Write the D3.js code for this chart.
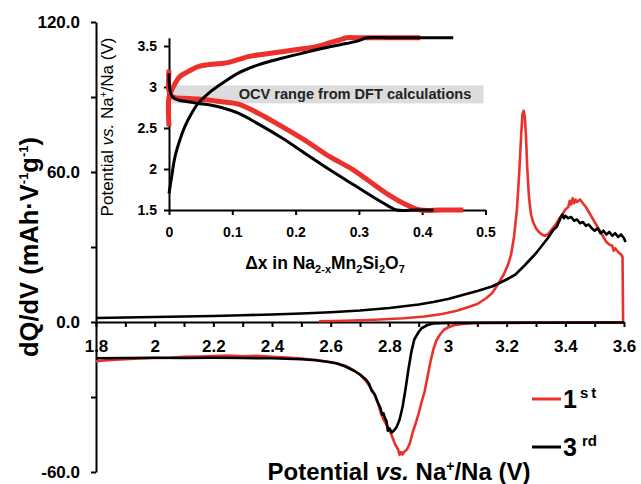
<!DOCTYPE html>
<head>
  <meta charset="utf-8">
  <title>dQ/dV Na2Mn2Si2O7</title>
  <script src="https://d3js.org/d3.v7.min.js"></script>
  <style>
    body { margin: 0; background: #fff; }
    svg { font-family: "Liberation Sans", Arial, sans-serif; }
    .axis path, .axis line { stroke: #000; stroke-width: 2px; }
    .axis text { font-weight: bold; fill: #000; font-family: "Liberation Sans", Arial, sans-serif; }
    .curve { fill: none; stroke-linejoin: round; stroke-linecap: butt; }
    .title { font-weight: bold; fill: #000; }
  </style>
</head>

<body>
  <script>
    var width = 641, height = 484;
    var red = "#ec302c";

    // main plot, 1st cycle (charge then discharge)
    var c1V = [2.56, 2.65, 2.75, 2.85, 2.92, 2.98, 3.03, 3.07, 3.10, 3.13, 3.15, 3.17, 3.19, 3.205, 3.215, 3.225, 3.235, 3.243, 3.25, 3.254, 3.258, 3.262, 3.266, 3.27, 3.276, 3.283, 3.29, 3.30, 3.31, 3.32, 3.33, 3.34, 3.35, 3.36, 3.37, 3.38, 3.39, 3.40, 3.41, 3.415, 3.42, 3.425, 3.43, 3.435, 3.44, 3.45, 3.46, 3.47, 3.48, 3.49, 3.50, 3.51, 3.52, 3.53, 3.54, 3.55, 3.56, 3.565, 3.57, 3.58, 3.59, 3.595, 3.597,
      3.5, 3.3, 3.1, 3.05, 3.02, 3.0, 2.985, 2.97, 2.96, 2.95, 2.94, 2.93, 2.92, 2.91, 2.90, 2.89, 2.88, 2.87, 2.86, 2.85, 2.845, 2.84, 2.835, 2.83, 2.82, 2.81, 2.80, 2.79, 2.78, 2.77, 2.76, 2.75, 2.74, 2.72, 2.70, 2.68, 2.65, 2.60, 2.55, 2.50, 2.45, 2.40, 2.35, 2.30, 2.25, 2.20, 2.15, 2.10, 2.05, 2.00, 1.95, 1.90, 1.85, 1.80];
    var c1Q = [0.3, 0.5, 0.9, 1.5, 2.2, 3.2, 4.5, 6.0, 7.2, 9.5, 11.5, 15, 19, 23, 27, 34, 45, 60, 76, 83, 84.5, 82, 74, 62, 50, 43, 40, 37.5, 36, 35, 34.5, 35, 36.5, 38, 39.5, 41.5, 43, 45, 46, 48.5, 47, 49.5, 47.5, 49, 48, 49, 47.5, 46, 44, 42, 40, 38, 36, 34, 32, 31, 30.5, 28.5, 29.5, 28, 27, 26, 0,
      -0.2, -0.3, -0.4, -0.8, -1.3, -2.2, -3.2, -5.5, -7.5, -11, -16, -22, -28, -32, -36.5, -40.5, -44, -48.5, -51, -52, -53, -52, -53.2, -51, -49, -46, -43, -41, -39, -36, -32, -29, -27, -23.5, -21, -19.5, -17.5, -16, -15.2, -14.6, -14.2, -13.9, -13.5, -13.7, -13.4, -13.6, -13.8, -13.9, -14.3, -14.4, -14.6, -14.9, -15.2, -15.7];

    // main plot, 3rd cycle
    var c3ChV = [1.8, 1.9, 2.0, 2.1, 2.2, 2.3, 2.4, 2.5, 2.6, 2.7, 2.8, 2.9, 2.95, 3.0, 3.05, 3.1, 3.15, 3.2, 3.23, 3.26, 3.28, 3.3, 3.32, 3.34, 3.36, 3.37, 3.38, 3.385, 3.39, 3.395, 3.40, 3.41, 3.42, 3.43, 3.44, 3.45, 3.46, 3.47, 3.48, 3.49, 3.50, 3.51, 3.52, 3.53, 3.54, 3.55, 3.56, 3.57, 3.58, 3.59, 3.6, 3.605];
    var c3ChQ = [1.6, 1.8, 2.0, 2.2, 2.4, 2.7, 3.0, 3.4, 3.9, 4.6, 5.6, 7.0, 8.0, 9.2, 10.8, 12.4, 14.2, 17, 19, 22.5, 25, 27.5, 30.5, 33.5, 37, 38, 40.5, 42, 43, 41.5, 42.5, 41.5, 42, 40.5, 41, 39.5, 40, 38.5, 39, 37.5, 36.5, 37.5, 35.5, 36.5, 35, 36, 34.5, 35.5, 34, 35, 33.5, 32];
    var c3DisV = [3.6, 3.2, 3.0, 2.95, 2.93, 2.91, 2.90, 2.885, 2.875, 2.865, 2.855, 2.845, 2.835, 2.825, 2.815, 2.808, 2.80, 2.795, 2.79, 2.785, 2.78, 2.775, 2.77, 2.76, 2.75, 2.74, 2.73, 2.72, 2.70, 2.68, 2.65, 2.62, 2.58, 2.55, 2.50, 2.40, 2.30, 2.20, 2.10, 2.00, 1.90, 1.80];
    var c3DisQ = [-0.2, -0.3, -0.4, -0.6, -1.2, -2.5, -4, -7, -12, -19, -27, -34, -39, -42, -43.5, -44.2, -42.5, -43.5, -39.5, -38.5, -36.5, -37, -34.5, -32, -29, -27.5, -24.5, -23, -21, -19.5, -17.8, -16.5, -15.8, -15.3, -14.9, -14.5, -14.4, -14.3, -14.4, -14.3, -14.4, -14.5];

    // inset: potential vs. delta x
    var inRedChX = [0, 0, 0.004, 0.0095, 0.017, 0.0305, 0.046, 0.06, 0.073, 0.086, 0.099, 0.112, 0.125, 0.15, 0.178, 0.205, 0.231, 0.254, 0.268, 0.281, 0.30, 0.35, 0.397];
    var inRedChV = [2.52, 2.88, 2.96, 3.04, 3.126, 3.19, 3.248, 3.27, 3.28, 3.29, 3.31, 3.34, 3.37, 3.40, 3.43, 3.46, 3.49, 3.54, 3.57, 3.6, 3.6, 3.6, 3.6];
    var inRedDisX = [0, 0, 0.004, 0.0095, 0.03, 0.046, 0.065, 0.083, 0.1095, 0.141, 0.178, 0.215, 0.254, 0.291, 0.344, 0.376, 0.397, 0.43, 0.465];
    var inRedDisV = [3.21, 2.95, 2.89, 2.87, 2.86, 2.854, 2.84, 2.82, 2.79, 2.68, 2.52, 2.35, 2.15, 1.99, 1.70, 1.56, 1.5, 1.5, 1.5];
    var inBlkChX = [0, 0.0042, 0.0095, 0.017, 0.025, 0.0358, 0.046, 0.062, 0.0832, 0.1095, 0.141, 0.178, 0.215, 0.254, 0.28, 0.30, 0.312, 0.35, 0.40, 0.449];
    var inBlkChV = [1.70, 1.906, 2.15, 2.35, 2.516, 2.68, 2.80, 2.92, 3.04, 3.17, 3.27, 3.35, 3.42, 3.49, 3.53, 3.565, 3.6, 3.6, 3.6, 3.6];
    var inBlkDisX = [0, 0.0016, 0.0053, 0.0148, 0.03, 0.046, 0.065, 0.083, 0.1095, 0.141, 0.178, 0.215, 0.254, 0.291, 0.32, 0.344, 0.36, 0.39, 0.418];
    var inBlkDisV = [3.167, 2.96, 2.88, 2.84, 2.82, 2.80, 2.78, 2.75, 2.68, 2.55, 2.38, 2.19, 1.99, 1.81, 1.67, 1.56, 1.5, 1.5, 1.5];
    var ocvRange = [2.80, 3.02];

    var mainXTicks = d3.range(18, 37).map(d => d / 10);
    var mainXLabels = ["1.8", "2", "2.2", "2.4", "2.6", "2.8", "3", "3.2", "3.4", "3.6"];
    var mainYTicks = [-60, -30, 0, 30, 60, 90, 120];
    var mainYLabels = ["-60.0", "0.0", "60.0", "120.0"];
    var inXTicks = [0, 0.1, 0.2, 0.3, 0.4, 0.5];
    var inYTicks = [1.5, 2, 2.5, 3, 3.5];

    var svg = d3.select("body").append("svg")
      .attr("width", width)
      .attr("height", height);

    var x = d3.scaleLinear().domain([1.8, 3.6]).range([96, 624]);
    var y = d3.scaleLinear().domain([-60, 120]).range([472, 22]);
    var ix = d3.scaleLinear().domain([0, 0.5]).range([169, 485.5]);
    var iy = d3.scaleLinear().domain([1.5, 3.6]).range([210, 37.8]);

    function zip(a, b) { return a.map((d, i) => [d, b[i]]); }

    // main axes
    var yAxis = svg.append("g").attr("class", "axis")
      .attr("transform", "translate(" + x(1.8) + ",0)")
      .call(d3.axisLeft(y).tickValues(mainYTicks).tickSize(5).tickSizeOuter(0).tickPadding(11)
        .tickFormat(d => { var s = d.toFixed(1); return mainYLabels.indexOf(s) >= 0 ? s : ""; }));
    yAxis.selectAll("text").style("font-size", "17px");

    var xAxis = svg.append("g").attr("class", "axis")
      .attr("transform", "translate(0," + y(0) + ")")
      .call(d3.axisBottom(x).tickValues(mainXTicks).tickSize(5).tickSizeOuter(0).tickPadding(13)
        .tickFormat(d => { var s = d3.format("~g")(d); return mainXLabels.indexOf(s) >= 0 ? s : ""; }));
    xAxis.selectAll("text").style("font-size", "17px");

    var line = d3.line().x(d => x(d[0])).y(d => y(d[1]));

    svg.append("path").attr("class", "curve")
      .attr("d", line(zip(c1V, c1Q)))
      .attr("stroke", red).attr("stroke-width", 2.6);
    svg.append("path").attr("class", "curve")
      .attr("d", line(zip(c3ChV, c3ChQ)))
      .attr("stroke", "#000").attr("stroke-width", 2.6);
    svg.append("path").attr("class", "curve")
      .attr("d", line(zip(c3DisV, c3DisQ)))
      .attr("stroke", "#000").attr("stroke-width", 2.6);

    // main titles
    var yt = svg.append("text").attr("class", "title")
      .attr("transform", "translate(38,247) rotate(-90)")
      .attr("text-anchor", "middle")
      .style("font-size", "25.5px");
    yt.append("tspan").text("dQ/dV (mAh\u00b7V");
    yt.append("tspan").attr("dy", -10).style("font-size", "13px").text("-1");
    yt.append("tspan").attr("dy", 10).text("g");
    yt.append("tspan").attr("dy", -10).style("font-size", "13px").text("-1");
    yt.append("tspan").attr("dy", 10).text(")");

    var xt = svg.append("text").attr("class", "title")
      .attr("x", 399).attr("y", 480)
      .attr("text-anchor", "middle")
      .style("font-size", "24px");
    xt.append("tspan").text("Potential ");
    xt.append("tspan").style("font-style", "italic").text("vs.");
    xt.append("tspan").text(" Na");
    xt.append("tspan").attr("dy", -9).style("font-size", "14px").text("+");
    xt.append("tspan").attr("dy", 9).text("/Na (V)");

    // legend
    var legend = [{lab: "1", sup: "st", col: red, y: 399, sp: 3}, {lab: "3", sup: "rd", col: "#000", y: 447, sp: 0}];
    var lg = svg.append("g").selectAll("g").data(legend).enter().append("g")
      .attr("transform", d => "translate(532," + d.y + ")");
    lg.append("line").attr("x2", 29).attr("stroke", d => d.col).attr("stroke-width", 3);
    var lt = lg.append("text").attr("class", "title").attr("x", 31).attr("y", 9).style("font-size", "25px");
    lt.append("tspan").text(d => d.lab);
    lt.append("tspan").attr("dx", d => d.sp ? 3 : 5).attr("dy", -10).style("font-size", "15px")
      .style("letter-spacing", d => d.sp + "px").text(d => d.sup);

    // inset
    var inset = svg.append("g");
    inset.append("rect")
      .attr("x", ix(0)).attr("width", ix(0.497) - ix(0))
      .attr("y", iy(ocvRange[1])).attr("height", iy(ocvRange[0]) - iy(ocvRange[1]))
      .attr("fill", "#dcdcdc");
    inset.append("text")
      .attr("x", 355).attr("y", iy(2.91) + 5)
      .attr("text-anchor", "middle")
      .style("font-size", "14.6px").style("font-weight", "bold").attr("fill", "#222")
      .text("OCV range from DFT calculations");

    var iyAxis = inset.append("g").attr("class", "axis")
      .attr("transform", "translate(" + ix(0) + ",0)")
      .call(d3.axisLeft(iy).tickValues(inYTicks).tickSize(5).tickSizeOuter(0).tickPadding(7).tickFormat(d3.format("~g")));
    iyAxis.selectAll("text").style("font-size", "14px");
    var ixAxis = inset.append("g").attr("class", "axis")
      .attr("transform", "translate(0," + iy(1.5) + ")")
      .call(d3.axisBottom(ix).tickValues(inXTicks).tickSize(5).tickSizeOuter(0).tickPadding(12).tickFormat(d3.format("~g")));
    ixAxis.selectAll("text").style("font-size", "14px");

    var iline = d3.line().x(d => ix(d[0])).y(d => iy(d[1])).curve(d3.curveCatmullRom.alpha(0.5));
    inset.append("path").attr("class", "curve").attr("d", iline(zip(inRedChX, inRedChV)))
      .attr("stroke", red).attr("stroke-width", 5);
    inset.append("path").attr("class", "curve").attr("d", iline(zip(inRedDisX, inRedDisV)))
      .attr("stroke", red).attr("stroke-width", 5);
    inset.append("path").attr("class", "curve").attr("d", iline(zip(inBlkChX, inBlkChV)))
      .attr("stroke", "#000").attr("stroke-width", 3);
    inset.append("path").attr("class", "curve").attr("d", iline(zip(inBlkDisX, inBlkDisV)))
      .attr("stroke", "#000").attr("stroke-width", 3);

    var iyt = inset.append("text")
      .attr("transform", "translate(113,127) rotate(-90)")
      .attr("text-anchor", "middle").attr("fill", "#000")
      .style("font-size", "17px");
    iyt.append("tspan").text("Potential ");
    iyt.append("tspan").style("font-style", "italic").text("vs.");
    iyt.append("tspan").text(" Na");
    iyt.append("tspan").attr("dy", -6).style("font-size", "10px").text("+");
    iyt.append("tspan").attr("dy", 6).text("/Na (V)");

    var ixt = inset.append("text").attr("class", "title")
      .attr("x", 325).attr("y", 269)
      .attr("text-anchor", "middle")
      .style("font-size", "17.5px");
    ixt.append("tspan").text("\u0394x in Na");
    ixt.append("tspan").attr("dy", 4).style("font-size", "11px").text("2-x");
    ixt.append("tspan").attr("dy", -4).text("Mn");
    ixt.append("tspan").attr("dy", 4).style("font-size", "11px").text("2");
    ixt.append("tspan").attr("dy", -4).text("Si");
    ixt.append("tspan").attr("dy", 4).style("font-size", "11px").text("2");
    ixt.append("tspan").attr("dy", -4).text("O");
    ixt.append("tspan").attr("dy", 4).style("font-size", "11px").text("7");
  </script>
</body>
